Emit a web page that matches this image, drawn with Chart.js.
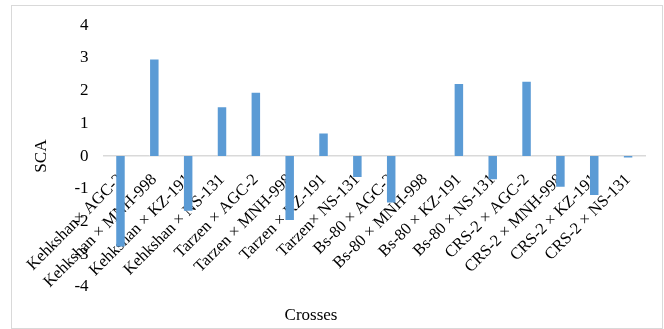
<!DOCTYPE html>
<html>
<head>
<meta charset="utf-8">
<script src="https://cdn.jsdelivr.net/npm/chart.js@4.4.1/dist/chart.umd.min.js"></script>
<style>
  body { margin: 0; background: #fff; }
  #frame { position: absolute; left: 11px; top: 5px; width: 650px; height: 322px; border: 1px solid #d9d9d9; }
  #wrap { position: absolute; left: 0; top: 0; width: 664px; height: 329px; }
</style>
</head>
<body>
<div id="frame"></div>
<div id="wrap"><canvas id="chart" width="664" height="329"></canvas></div>
<script>
const crosses = [
    'Kehkshan× AGC-2', 'Kehkshan × MNH-998', 'Kehkshan × KZ-191', 'Kehkshan × NS-131',
    'Tarzen × AGC-2', 'Tarzen × MNH-998', 'Tarzen × KZ-191', 'Tarzen× NS-131',
    'Bs-80 × AGC-2', 'Bs-80 × MNH-998', 'Bs-80 × KZ-191', 'Bs-80 × NS-131',
    'CRS-2 × AGC-2', 'CRS-2 × MNH-998', 'CRS-2 × KZ-191', 'CRS-2 × NS-131'
];
const scaValues = [-2.79, 2.98, -1.70, 1.52, 1.97, -1.98, 0.72, -0.67,
    -1.45, 0, 2.23, -0.74, 2.30, -0.97, -1.22, -0.07];
const yMin = -4;
const yMax = 4;
const yStep = 1;

const fontTimes = { family: '"Liberation Serif"', size: 17 };

// titre de l'axe X, dessiné à la main (décalé comme dans Excel)
const crossesTitle = {
    id: 'crossesTitle',
    afterDraw(chart) {
        const ctx = chart.ctx;
        ctx.save();
        ctx.font = '17px "Liberation Serif"';
        ctx.fillStyle = '#000';
        ctx.textAlign = 'center';
        ctx.textBaseline = 'middle';
        ctx.fillText('Crosses', 311, 316);
        ctx.restore();
    }
};

new Chart(document.getElementById('chart'), {
    type: 'bar',
    data: {
        labels: crosses,
        datasets: [{
            label: 'SCA',
            data: scaValues,
            backgroundColor: '#5b9bd5',
            borderColor: 'rgba(255,255,255,0.35)',
            borderWidth: 1,
            barPercentage: 0.31,
            categoryPercentage: 1
        }]
    },
    options: {
        responsive: false,
        animation: false,
        layout: { padding: { left: 27, right: 19, top: 23, bottom: 42 } },
        plugins: {
            legend: { display: false },
            tooltip: { enabled: false }
        },
        scales: {
            x: {
                position: { y: 0 },
                grid: { display: false, drawTicks: false },
                border: { display: true, color: '#d9d9d9', width: 1.5 },
                ticks: {
                    autoSkip: false,
                    minRotation: 45,
                    maxRotation: 45,
                    padding: 14,
                    color: '#000',
                    font: { family: '"Liberation Serif"', size: 16.5 }
                }
            },
            y: {
                min: yMin,
                max: yMax,
                grid: { display: false, drawTicks: false },
                border: { display: false },
                ticks: {
                    stepSize: yStep,
                    padding: 15,
                    color: '#000',
                    font: fontTimes
                },
                title: {
                    display: true,
                    text: 'SCA',
                    color: '#000',
                    padding: { top: 4, bottom: 8 },
                    font: fontTimes
                }
            }
        }
    },
    plugins: [crossesTitle]
});
</script>
</body>
</html>
